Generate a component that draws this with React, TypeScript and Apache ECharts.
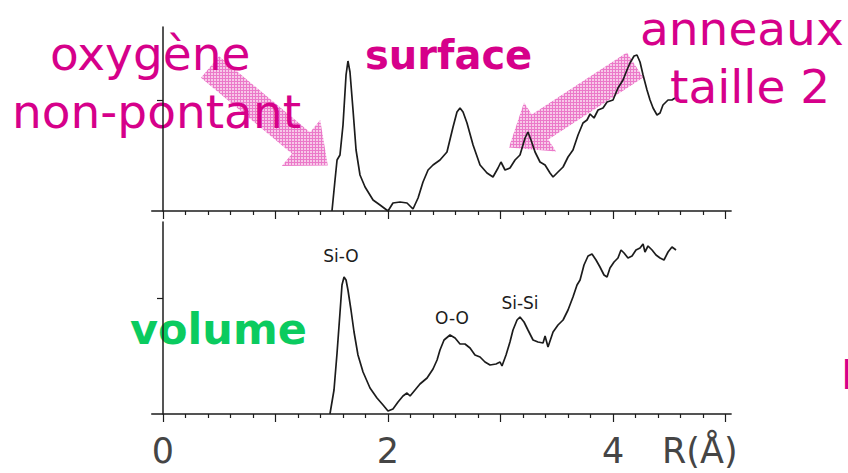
import React, { useEffect, useRef } from 'react';
import * as echarts from 'echarts';

// ---- data ----
const surfaceR = [1.502, 1.529, 1.547, 1.573, 1.6, 1.627, 1.644, 1.662, 1.689, 1.716, 1.751, 1.796, 1.867, 1.929, 2.0, 2.044, 2.107, 2.169, 2.222, 2.267, 2.311, 2.356, 2.4, 2.462, 2.524, 2.578, 2.613, 2.64, 2.667, 2.702, 2.756, 2.818, 2.88, 2.933, 2.978, 3.004, 3.04, 3.084, 3.129, 3.173, 3.218, 3.244, 3.271, 3.307, 3.351, 3.396, 3.44, 3.467, 3.511, 3.556, 3.6, 3.644, 3.689, 3.733, 3.769, 3.796, 3.831, 3.867, 3.911, 3.947, 4.0, 4.044, 4.089, 4.124, 4.151, 4.187, 4.213, 4.24, 4.267, 4.302, 4.329, 4.356, 4.391, 4.418, 4.444, 4.489, 4.524, 4.551];
const surfaceG = [0, 3.1, 5.1, 5.6, 8.6, 13.6, 15.0, 13.9, 10.1, 6.1, 3.6, 2.4, 1.1, 0.6, 0, 0.8, 0.9, 0.8, 0.2, 1.3, 2.9, 4.1, 4.6, 5.1, 5.9, 8.4, 9.9, 10.3, 9.9, 8.8, 6.6, 4.6, 3.8, 3.4, 4.3, 4.9, 4.1, 4.3, 5.1, 5.6, 7.3, 7.9, 7.1, 5.9, 4.9, 4.6, 3.8, 3.4, 3.9, 4.4, 5.4, 6.1, 7.6, 8.8, 9.1, 9.7, 9.3, 10.1, 10.3, 10.9, 11.1, 12.3, 13.1, 14.1, 14.8, 15.5, 15.6, 14.9, 13.6, 12.1, 11.1, 10.3, 9.6, 9.8, 10.6, 11.1, 11.1, 11.3];

const volumeR = [1.484, 1.52, 1.547, 1.573, 1.591, 1.609, 1.627, 1.644, 1.671, 1.698, 1.733, 1.778, 1.84, 1.902, 1.956, 2.0, 2.044, 2.089, 2.133, 2.169, 2.196, 2.24, 2.284, 2.347, 2.4, 2.436, 2.462, 2.498, 2.551, 2.596, 2.64, 2.684, 2.729, 2.773, 2.818, 2.862, 2.907, 2.96, 2.996, 3.013, 3.049, 3.084, 3.111, 3.147, 3.173, 3.209, 3.244, 3.289, 3.333, 3.378, 3.396, 3.422, 3.467, 3.511, 3.556, 3.6, 3.644, 3.68, 3.707, 3.742, 3.778, 3.813, 3.849, 3.884, 3.92, 3.947, 3.973, 4.009, 4.044, 4.071, 4.098, 4.133, 4.169, 4.204, 4.24, 4.267, 4.284, 4.311, 4.347, 4.382, 4.418, 4.453, 4.489, 4.524, 4.56];
const volumeG = [0, 2.4, 6.1, 10.1, 12.9, 13.7, 13.4, 12.4, 10.4, 8.2, 5.9, 4.2, 2.6, 1.6, 0.9, 0.3, 0.5, 1.2, 1.8, 2.1, 1.8, 2.4, 3.0, 3.6, 4.5, 5.4, 6.4, 7.4, 7.9, 7.6, 7.0, 7.0, 6.6, 5.9, 5.7, 5.2, 4.9, 5.0, 5.2, 4.8, 5.9, 7.2, 8.4, 9.4, 9.7, 9.2, 8.4, 7.4, 7.2, 7.1, 7.8, 6.7, 8.2, 8.9, 9.4, 10.4, 11.7, 12.9, 13.4, 14.9, 15.8, 16.0, 15.4, 14.7, 13.9, 13.7, 14.6, 15.2, 15.6, 16.4, 16.1, 15.6, 15.8, 16.4, 16.6, 17.0, 16.2, 16.8, 16.4, 15.9, 15.6, 15.4, 16.2, 16.7, 16.4];

const majorTicks = [0, 1, 2, 3, 4, 5];
const minorTicks = [0.2, 0.4, 0.6, 0.8, 1.2, 1.4, 1.6, 1.8, 2.2, 2.4, 2.6, 2.8, 3.2, 3.4, 3.6, 3.8, 4.2, 4.4, 4.6, 4.8];
const tickLabels = [0, 2, 4];
const axisTitle = 'R(Å)';
const peakLabels = ['Si-O', 'O-O', 'Si-Si'];

const PINK = '#d6008a';
const GREEN = '#0bcb5f';
const INK = '#1c1c1c';
const FONT = 'DejaVu Sans';

export default function App() {
  const ref = useRef<HTMLDivElement>(null);
  useEffect(() => {
    if (!ref.current) return;
    const chart = echarts.init(ref.current, null, { renderer: 'svg' });

    const c = document.createElement('canvas');
    c.width = 3; c.height = 3;
    const ctx = c.getContext('2d')!;
    ctx.fillStyle = '#f6bfe4';
    ctx.fillRect(0, 0, 3, 3);
    ctx.fillStyle = '#e862c0';
    ctx.fillRect(0, 0, 3, 1);
    ctx.fillRect(0, 0, 1, 3);
    const arrowFill: any = { image: c, repeat: 'repeat' };

    const X_MIN = -0.1, X_MAX = 5.05;
    const gridLeft = 151.75, gridW = 579.4;

    const xAx = (gridIndex: number, minor: boolean, labels: boolean) => ({
      type: 'value', gridIndex, min: X_MIN, max: X_MAX, position: 'bottom',
      axisLine: { show: !minor, onZero: false, lineStyle: { color: INK, width: 1.5 } },
      axisTick: { show: true, inside: false, length: minor ? 4 : 8, customValues: minor ? minorTicks : majorTicks, lineStyle: { color: INK, width: 1.2 } },
      axisLabel: { show: labels, customValues: tickLabels, margin: 37, verticalAlign: 'middle', lineHeight: 30, fontSize: 35, color: '#454545', fontFamily: FONT },
      splitLine: { show: false }, z: 5,
    });
    const yAx = (gridIndex: number, max: number, tick: number) => ({
      type: 'value', gridIndex, min: 0, max,
      axisLine: { show: true, onZero: true, lineStyle: { color: INK, width: 1.5 } },
      axisTick: { show: true, length: 6, customValues: [tick], lineStyle: { color: INK, width: 1.2 } },
      axisLabel: { show: false }, splitLine: { show: false }, z: 5,
    });

    const txt = (text: string, x: number, y: number, fill: string, fontSize: number, fontWeight = 'normal', align = 'left', lineHeight?: number) => ({
      type: 'text', x, y, z: 3,
      style: { text, fill, fontSize, fontFamily: FONT, fontWeight, align, verticalAlign: 'middle', lineHeight: lineHeight ?? fontSize },
    });

    chart.setOption({
      animation: false,
      grid: [
        { left: gridLeft, width: gridW, top: 27, height: 184 },
        { left: gridLeft, width: gridW, top: 222, height: 192 },
      ],
      xAxis: [xAx(0, false, false), xAx(0, true, false), xAx(1, false, true), xAx(1, true, false)],
      yAxis: [yAx(0, 18.4, 11.1), yAx(1, 19.2, 11.6)],
      series: [
        { type: 'line', xAxisIndex: 0, yAxisIndex: 0, data: surfaceR.map((r, i) => [r, surfaceG[i]]), symbol: 'none', lineStyle: { color: INK, width: 1.7 }, z: 2 },
        { type: 'line', xAxisIndex: 2, yAxisIndex: 1, data: volumeR.map((r, i) => [r, volumeG[i]]), symbol: 'none', lineStyle: { color: INK, width: 1.7 }, z: 2 },
      ],
      graphic: [
        { type: 'polygon', z: 1, shape: { points: [[201, 77.7], [292, 153.7], [281.8, 166], [327.8, 165.4], [320.2, 120], [310, 132.3], [219, 56.3]] }, style: { fill: arrowFill, opacity: 0.85 } },
        { type: 'polygon', z: 1, shape: { points: [[643.3, 77.6], [548.3, 139.6], [556, 151.4], [508.9, 147.4], [524, 102.6], [531.8, 114.4], [626.8, 52.4]] }, style: { fill: arrowFill, opacity: 0.85 } },
        txt('oxygène', 50, 53, PINK, 47),
        txt('non-pontant', 12, 111, PINK, 47),
        txt('surface', 365, 55, PINK, 40, 'bold'),
        txt('anneaux', 640, 28, PINK, 47),
        txt('taille 2', 670, 86, PINK, 47),
        txt('volume', 130, 329, GREEN, 43, 'bold'),
        txt('F', 841, 375, PINK, 41),
        txt(peakLabels[0], 341, 255.6, INK, 17, 'normal', 'center'),
        txt(peakLabels[1], 452, 318, INK, 17, 'normal', 'center'),
        txt(peakLabels[2], 520, 303, INK, 17, 'normal', 'center'),
        txt(axisTitle, 662, 451, '#454545', 35, 'normal', 'left', 30),
      ],
    });
    return () => chart.dispose();
  }, []);
  return <div ref={ref} style={{ position: 'fixed', left: 0, top: 0, width: 848, height: 473, background: '#fff' }} />;
}
